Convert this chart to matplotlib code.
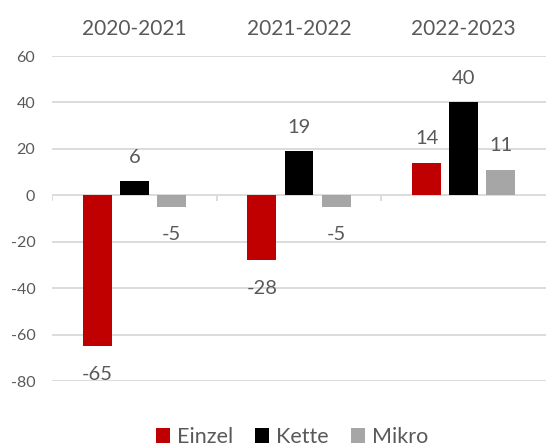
import matplotlib
matplotlib.use("Agg")
import matplotlib.pyplot as plt
import numpy as np

categories = ["2020-2021", "2021-2022", "2022-2023"]
series_names = ["Einzel", "Kette", "Mikro"]
einzel = [-65, -28, 14]
kette = [6, 19, 40]
mikro = [-5, -5, 11]
yticks = [-80, -60, -40, -20, 0, 20, 40, 60]

colors = ["#C00000", "#000000", "#A6A6A6"]
txt = "#595959"
grid = "#D9D9D9"

plt.rcParams['font.family'] = ['Lato', 'DejaVu Sans']

fig = plt.figure(figsize=(5.46, 4.48), dpi=100)
ax = fig.add_axes([52/546, 1-381/448, 1-52/546, (381-56)/448])

x = np.arange(len(categories))
width = 0.176
step = 0.225
series = [einzel, kette, mikro]
for i, (name, vals, c) in enumerate(zip(series_names, series, colors)):
    pos = x + (i - 1) * step
    ax.bar(pos, vals, width, color=c, label=name, zorder=3)
    for px, v in zip(pos, vals):
        off = 24/1.389 if v >= 0 else -28/1.389
        ax.annotate(f"{v}", (px, v), xytext=(0, off), textcoords="offset points",
                    ha="center", va="center", fontsize=14.5, color=txt, zorder=4)

ax.set_xlim(-0.5, len(categories) - 0.5)
ax.set_ylim(-80, 60)
ax.set_yticks(yticks)
ax.set_yticklabels([str(t) for t in yticks])
for t in yticks:
    ax.axhline(t, color=grid, lw=1.3, zorder=1)
bounds = np.arange(len(categories) + 1) - 0.5
ax.vlines(bounds[:-1], -2.6, 0, color=grid, lw=1.3, zorder=2)

ax.set_xticks(x)
ax.set_xticklabels(categories)
ax.xaxis.tick_top()
ax.tick_params(axis='x', length=0, pad=12, labelsize=15, labelcolor=txt)
ax.tick_params(axis='y', length=0, pad=12, labelsize=11.5, labelcolor=txt)
for s in ax.spines.values():
    s.set_visible(False)

fig.legend(loc="center", bbox_to_anchor=(292/546, 1-437/448), ncol=3, frameon=False,
           fontsize=15.5, labelcolor=txt, handlelength=0.65, handleheight=0.65,
           handletextpad=0.35, columnspacing=1.0)

fig.savefig("out.png", dpi=100)
